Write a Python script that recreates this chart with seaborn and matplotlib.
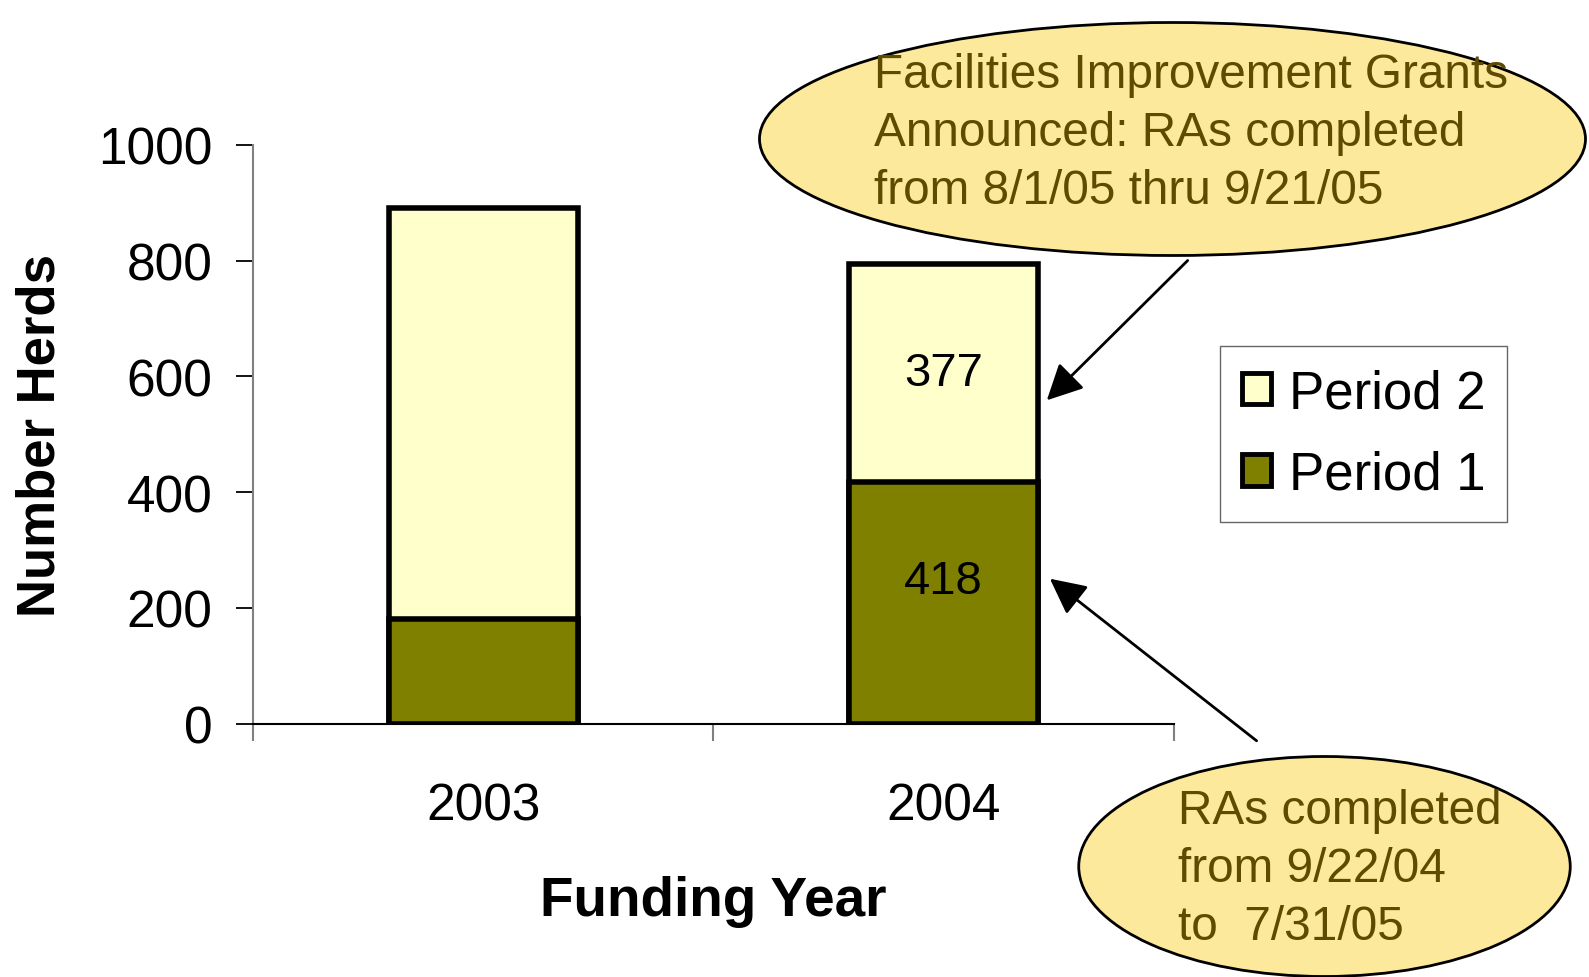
import matplotlib
matplotlib.use("Agg")
import matplotlib.pyplot as plt
import seaborn as sns
import pandas as pd
import numpy as np
from matplotlib.patches import Ellipse, Patch, FancyArrowPatch

# ---- data ----
years = ["2003", "2004"]
period1 = [180, 418]
period2 = [711, 377]
series_names = ["Period 1", "Period 2"]
y_ticks = [0, 200, 400, 600, 800, 1000]
note_top = ["Facilities Improvement Grants", "Announced: RAs completed", "from 8/1/05 thru 9/21/05"]
note_bottom = ["RAs completed", "from 9/22/04", "to  7/31/05"]

sns.set_theme(style="white")
plt.rcParams["font.family"] = ["Liberation Sans", "DejaVu Sans"]
plt.rcParams["text.color"] = "black"
plt.rcParams["xtick.color"] = "black"
plt.rcParams["ytick.color"] = "black"
plt.rcParams["axes.labelcolor"] = "black"

W, H = 1589, 978
fig = plt.figure(figsize=(W / 100, H / 100), dpi=100)
L, R, B, T = 253.3, 1173.5, 724.6, 145.9
ax = fig.add_axes([L / W, 1 - B / H, (R - L) / W, (B - T) / H])

df = pd.DataFrame({"year": years, "p1": period1, "p2": period2})
df["total"] = df["p1"] + df["p2"]

c2 = "#FFFFCC"
c1 = "#808000"
sns.barplot(data=df, x="year", y="total", color=c2, width=0.41, saturation=1,
            edgecolor="black", ax=ax)
sns.barplot(data=df, x="year", y="p1", color=c1, width=0.41, saturation=1,
            edgecolor="black", ax=ax)
for p in ax.patches:
    p.set_linewidth(4.0)
    p.set_edgecolor("black")

ax.set_xlim(-0.5, 1.5)
ax.set_ylim(0, 1000)
ax.set_yticks(y_ticks)
ax.set_yticklabels([str(v) for v in y_ticks], fontsize=37)
ax.set_xticks(range(len(years)))
ax.set_xticklabels(years, fontsize=37)
ax.set_xticks([-0.5, 0.5, 1.5], minor=True)
ax.tick_params(axis="x", which="major", length=0, pad=42, labelcolor="black")
ax.tick_params(axis="x", which="minor", length=12.5, width=1.5, color="#808080", direction="out", bottom=True)
ax.tick_params(axis="y", which="major", length=12.5, width=1.3, color="black", direction="out", pad=17,
               left=True, labelcolor="black")

for s in ["top", "right"]:
    ax.spines[s].set_visible(False)
ax.spines["left"].set_color("#808080")
ax.spines["left"].set_linewidth(1.5)
ax.spines["bottom"].set_color("black")
ax.spines["bottom"].set_linewidth(1.5)

ax.set_xlabel("Funding Year", fontsize=39.5, fontweight="bold", color="black")
ax.set_ylabel("Number Herds", fontsize=38, fontweight="bold", color="black")
ax.xaxis.set_label_coords(0.5, (B - 876) / (B - T))
ax.yaxis.set_label_coords((66 - L) / (R - L), 0.5)

# value labels on 2004 bar
ax.text(1, df["p1"][1] + df["p2"][1] / 2, str(df["p2"][1]), ha="center", va="center", fontsize=34, color="black")
ax.text(1, df["p1"][1] * 0.59, str(df["p1"][1]), ha="center", va="center", fontsize=34, color="black")

# legend
handles = [Patch(facecolor=c2, edgecolor="black", linewidth=3.5, label=series_names[1]),
           Patch(facecolor=c1, edgecolor="black", linewidth=3.5, label=series_names[0])]
leg = fig.legend(handles=handles, loc="upper left",
                 bbox_to_anchor=(1220 / W, 1 - 347 / H), fontsize=38,
                 frameon=True, fancybox=False, shadow=False, borderpad=0.42,
                 handlelength=0.55, handleheight=0.55, handletextpad=0.33,
                 labelspacing=0.6, borderaxespad=0)
leg.get_frame().set_edgecolor("#404040")
leg.get_frame().set_linewidth(1.0)
for t in leg.get_texts():
    t.set_color("black")

# callout ellipses
def fx(x):
    return x / W

def fy(y):
    return 1 - y / H

fill = "#FDE99B"
tcol = "#5F4B00"
e1 = Ellipse((fx(1172.5), fy(140)), 826 / W, 233 / H, transform=fig.transFigure,
             facecolor=fill, edgecolor="black", linewidth=2, zorder=5)
e2 = Ellipse((fx(1324.5), fy(867.5)), 491.5 / W, 220 / H, transform=fig.transFigure,
             facecolor=fill, edgecolor="black", linewidth=2, zorder=5)
fig.add_artist(e1)
fig.add_artist(e2)

for txt, yy in zip(note_top, [76, 133.8, 191.5]):
    fig.text(fx(873.5), fy(yy), txt, ha="left", va="center", fontsize=34.4, color=tcol, zorder=6)
for txt, yy in zip(note_bottom, [811.7, 869.5, 927.2]):
    fig.text(fx(1177.5), fy(yy), txt, ha="left", va="center", fontsize=34.4, color=tcol, zorder=6)

# arrows
arrow_kw = dict(arrowstyle="-|>,head_length=1.1,head_width=0.55", color="black", lw=2.0,
                shrinkA=0, shrinkB=0)
fig.add_artist(FancyArrowPatch((fx(1187.7), fy(261.5)), (fx(1046.8), fy(401.3)),
                               transform=fig.transFigure, mutation_scale=20, **arrow_kw))
fig.add_artist(FancyArrowPatch((fx(1256.6), fy(741.8)), (fx(1049.9), fy(579.7)),
                               transform=fig.transFigure, mutation_scale=20, **arrow_kw))

fig.savefig("out.png", dpi=100, facecolor="white")
